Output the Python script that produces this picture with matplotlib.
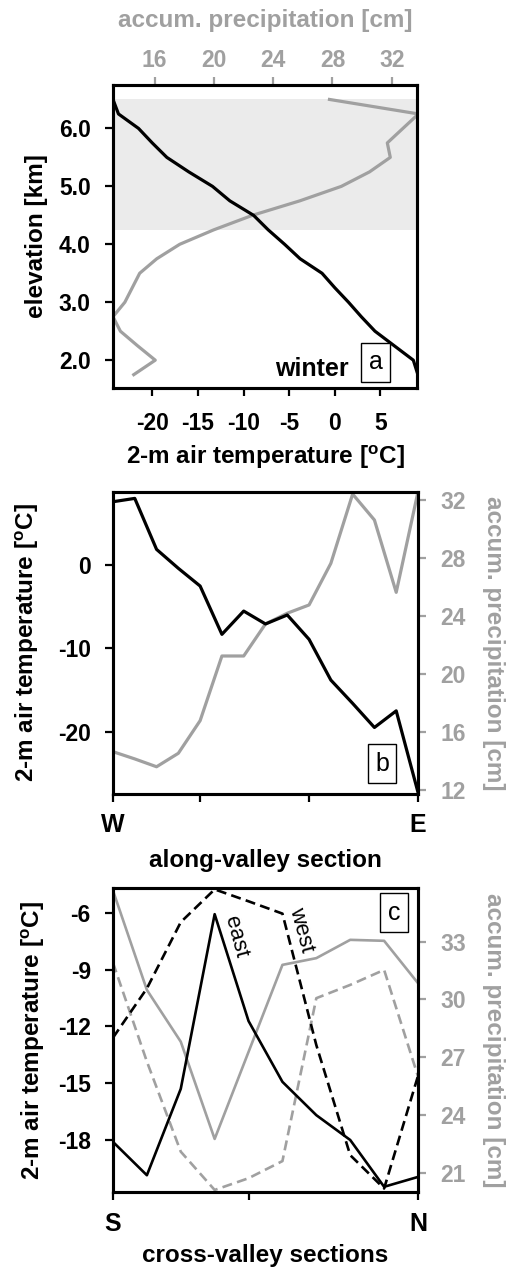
import matplotlib
matplotlib.use("Agg")
import matplotlib.pyplot as plt
import numpy as np

plt.rcParams['font.family'] = ['Liberation Sans', 'DejaVu Sans']
plt.rcParams['mathtext.fontset'] = 'custom'
plt.rcParams['mathtext.rm'] = 'Liberation Sans'
plt.rcParams['mathtext.bf'] = 'Liberation Sans:bold'
plt.rcParams['axes.unicode_minus'] = False

GRAY = '#a0a0a0'
SHADE = '#ebebeb'

# ---------------- Panel a data ----------------
elev_km = [1.75, 2.0, 2.25, 2.5, 2.75, 3.0, 3.25, 3.5, 3.75, 4.0, 4.25, 4.5,
           4.75, 5.0, 5.25, 5.5, 5.75, 6.0, 6.25, 6.5]
temp_a = [9.1, 8.6, 6.5, 4.4, 2.9, 1.5, 0.0, -1.4, -3.8, -5.5, -7.3, -8.9,
          -11.5, -13.4, -16.0, -18.4, -20.0, -21.5, -23.7, -24.3]
precip_a = [14.6, 16.05, 14.85, 13.7, 13.2, 14.0, 14.5, 15.0, 16.15, 17.7, 20.0,
            22.6, 25.8, 28.6, 30.5, 31.9, 31.7, 32.75, 33.8, 27.8]
shade_band = (4.25, 6.5)

# ---------------- Panel b data ----------------
along_idx = list(range(15))
temp_b = [7.65, 8.05, 1.92, -0.36, -2.49, -8.3, -5.5, -7.05, -5.97, -8.9,
          -13.8, -16.6, -19.5, -17.5, -27.3]
precip_b = [14.64, 14.14, 13.6, 14.53, 16.78, 21.24, 21.24, 23.45, 24.19, 24.76,
            27.63, 32.41, 30.62, 25.63, 32.57]
along_ticks = [0, 4, 9, 14]
along_labels = ['W', '', '', 'E']

# ---------------- Panel c data ----------------
cross_idx = list(range(10))
temp_east = [-18.1, -19.86, -15.3, -6.08, -11.72, -14.93, -16.69, -18.0, -20.47, -19.95]
temp_west = [-12.6, -10.0, -6.5, -4.77, -5.4, -6.05, -12.99, -18.8, -20.56, -14.62]
precip_east = [35.65, 30.49, 27.8, 22.75, 27.27, 31.79, 32.14, 33.09, 33.04, 30.84]
precip_west = [31.9, 26.77, 22.09, 20.1, 20.71, 21.6, 30.06, 30.75, 31.53, 26.0]
cross_ticks = [0, 4, 9]
cross_labels = ['S', '', 'N']

TICK_FS = 16.5
LABEL_FS = 17.5
LW = 2.3
DASH = (0, (3.8, 2.0))

fig = plt.figure(figsize=(5.11, 12.70), dpi=100)


def style_axis(ax):
    for s in ax.spines.values():
        s.set_linewidth(2.2)
    ax.tick_params(direction='out', length=6, width=1.6, labelsize=TICK_FS)
    for lab in ax.get_xticklabels() + ax.get_yticklabels():
        lab.set_fontweight('bold')


def boxlabel(ax, x, y, s):
    ax.text(x, y, s, transform=ax.transAxes, fontsize=18, ha='center', va='center',
            bbox=dict(boxstyle='square,pad=0.3', fc='white', ec='black', lw=1.0), zorder=10)


# ===== Panel a =====
axa = fig.add_axes([0.2211, 0.6945, 0.5949, 0.2386])
axa.set_ylim(1.52, 6.75)
axa2 = axa.twiny()
axa2.axhspan(shade_band[0], shade_band[1], color=SHADE, lw=0, zorder=0)
axa2.plot(precip_a, elev_km, color=GRAY, lw=LW, zorder=3)
axa2.set_xlim(13.2, 33.7)
axa2.set_xticks([16, 20, 24, 28, 32])
axa2.set_xlabel('accum. precipitation [cm]', fontsize=LABEL_FS, fontweight='bold', color=GRAY, labelpad=16)
style_axis(axa2)
axa2.tick_params(axis='x', colors=GRAY, pad=3)
for s in axa2.spines.values():
    s.set_color('black')

axa.plot(temp_a, elev_km, color='black', lw=LW, zorder=3)
axa.set_xlim(-24.3, 9.0)
axa.set_xticks([-20, -15, -10, -5, 0, 5])
axa.set_yticks([2, 3, 4, 5, 6])
axa.set_yticklabels(['2.0', '3.0', '4.0', '5.0', '6.0'])
axa.set_xlabel('2-m air temperature [$^\\mathbf{o}$C]', fontsize=LABEL_FS, fontweight='bold', labelpad=6)
axa.set_ylabel('elevation [km]', fontsize=LABEL_FS, fontweight='bold', labelpad=8)
style_axis(axa)
axa.tick_params(axis='x', pad=11)
axa.tick_params(axis='y', pad=10)
axa2.set_zorder(1)
axa.set_zorder(2)
axa.patch.set_visible(False)
axa2.patch.set_visible(False)
axa.text(0.655, 0.062, 'winter', transform=axa.transAxes, fontsize=LABEL_FS + 0.5,
         fontweight='bold', ha='center', va='center')
boxlabel(axa, 0.865, 0.085, 'a')

# ===== Panel b =====
axb = fig.add_axes([0.2211, 0.3748, 0.5969, 0.2380])
axb.plot(along_idx, temp_b, color='black', lw=LW, zorder=3)
axb.set_xlim(0, 14)
axb.set_ylim(-27.5, 8.85)
axb.set_yticks([-20, -10, 0])
axb.set_xticks(along_ticks)
axb.set_xticklabels(along_labels)
axb.set_ylabel('2-m air temperature [$^\\mathbf{o}$C]', fontsize=LABEL_FS, fontweight='bold', labelpad=12)
axb.set_xlabel('along-valley section', fontsize=LABEL_FS, fontweight='bold', labelpad=8)
style_axis(axb)
axb.tick_params(axis='x', labelsize=18, pad=8)
axb.tick_params(axis='y', pad=10)

axb2 = axb.twinx()
axb2.plot(along_idx, precip_b, color=GRAY, lw=LW, zorder=2)
axb2.set_ylim(11.72, 32.57)
axb2.set_yticks([12, 16, 20, 24, 28, 32])
axb2.set_ylabel('accum. precipitation [cm]', fontsize=LABEL_FS, fontweight='bold', color=GRAY,
                rotation=270, labelpad=28)
style_axis(axb2)
axb2.tick_params(axis='y', colors=GRAY, pad=10)
for s in axb2.spines.values():
    s.set_color('black')
axb2.set_zorder(1)
axb.set_zorder(2)
axb.patch.set_visible(False)
boxlabel(axb, 0.882, 0.10, 'b')

# ===== Panel c =====
axc = fig.add_axes([0.2211, 0.0612, 0.5969, 0.2394])
axc.plot(cross_idx, temp_east, color='black', lw=1.9, zorder=3)
axc.plot(cross_idx, temp_west, color='black', lw=1.9, ls=DASH, zorder=3)
axc.set_xlim(0, 9)
axc.set_ylim(-20.76, -4.71)
axc.set_yticks([-18, -15, -12, -9, -6])
axc.set_xticks(cross_ticks)
axc.set_xticklabels(cross_labels)
axc.set_ylabel('2-m air temperature [$^\\mathbf{o}$C]', fontsize=LABEL_FS, fontweight='bold', labelpad=8)
axc.set_xlabel('cross-valley sections', fontsize=LABEL_FS, fontweight='bold', labelpad=6)
style_axis(axc)
axc.tick_params(axis='x', labelsize=18, pad=8)
axc.tick_params(axis='y', pad=10)
axc.text(3.62, -7.3, 'east', fontsize=16, rotation=-75, ha='center', va='center')
axc.text(5.55, -6.9, 'west', fontsize=16, rotation=-75, ha='center', va='center')

axc2 = axc.twinx()
axc2.plot(cross_idx, precip_east, color=GRAY, lw=1.9, zorder=2)
axc2.plot(cross_idx, precip_west, color=GRAY, lw=1.9, ls=DASH, zorder=2)
axc2.set_ylim(19.98, 35.77)
axc2.set_yticks([21, 24, 27, 30, 33])
axc2.set_ylabel('accum. precipitation [cm]', fontsize=LABEL_FS, fontweight='bold', color=GRAY,
                rotation=270, labelpad=28)
style_axis(axc2)
axc2.tick_params(axis='y', colors=GRAY, pad=10)
for s in axc2.spines.values():
    s.set_color('black')
axc2.set_zorder(1)
axc.set_zorder(2)
axc.patch.set_visible(False)
boxlabel(axc, 0.921, 0.919, 'c')

fig.savefig('out.png', dpi=100)
